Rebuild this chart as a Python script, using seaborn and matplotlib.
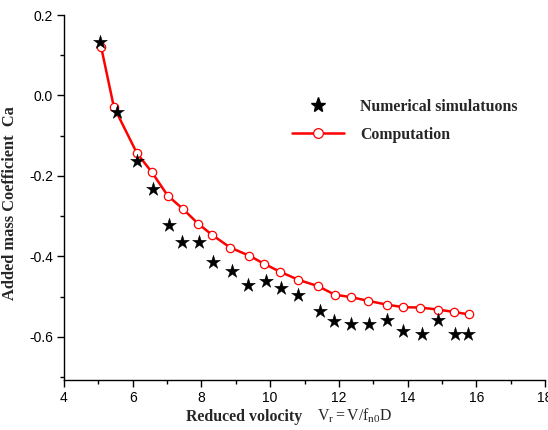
import numpy as np
import pandas as pd
import seaborn as sns
import matplotlib.pyplot as plt
from matplotlib.ticker import MultipleLocator
from matplotlib.lines import Line2D

# --- data ---
sim_vr = [5.04, 5.53, 6.12, 6.59, 7.05, 7.44, 7.92, 8.35, 8.88, 9.37, 9.88, 10.31,
          10.80, 11.44, 11.86, 12.34, 12.87, 13.40, 13.88, 14.41, 14.90, 15.38, 15.76]
sim_ca = [0.132, -0.041, -0.163, -0.233, -0.322, -0.364, -0.364, -0.414, -0.437, -0.470,
          -0.462, -0.478, -0.495, -0.535, -0.561, -0.569, -0.569, -0.559, -0.584, -0.593,
          -0.559, -0.593, -0.593]

comp_vr = [5.08, 5.45, 6.12, 6.56, 7.02, 7.45, 7.91, 8.32, 8.84, 9.39, 9.82, 10.29,
           10.82, 11.40, 11.88, 12.35, 12.84, 13.41, 13.88, 14.37, 14.89, 15.36, 15.78]
comp_ca = [0.121, -0.028, -0.143, -0.191, -0.249, -0.281, -0.319, -0.347, -0.378, -0.398,
           -0.418, -0.438, -0.458, -0.474, -0.495, -0.501, -0.510, -0.520, -0.526, -0.527,
           -0.532, -0.538, -0.544]

sim = pd.DataFrame({"vr": sim_vr, "ca": sim_ca})
comp = pd.DataFrame({"vr": comp_vr, "ca": comp_ca})

sns.set_style("ticks")
plt.rcParams['font.family'] = ['Liberation Sans', 'DejaVu Sans']
plt.rcParams['axes.unicode_minus'] = False
plt.rcParams['mathtext.fontset'] = 'custom'
plt.rcParams['mathtext.rm'] = 'Liberation Serif'
plt.rcParams['mathtext.it'] = 'Liberation Serif'

serif_size = 11.4

fig = plt.figure(figsize=(5.48, 4.30), dpi=100)
ax = fig.add_axes([64/548, 50/430, 481/548, 365/430])

# --- computation curve (red line, open circles) ---
sns.lineplot(data=comp, x="vr", y="ca", ax=ax, color="red", linewidth=1.8,
             marker="o", markersize=6, markerfacecolor="white",
             markeredgecolor="red", markeredgewidth=0.9, zorder=2)

# --- numerical simulation stars ---
sns.scatterplot(data=sim, x="vr", y="ca", ax=ax, marker="*", s=110,
                color="black", edgecolor="black", linewidth=0.3, zorder=3)

ax.set_xlim(4, 18)
ax.set_ylim(-0.707, 0.2)
ax.xaxis.set_major_locator(MultipleLocator(2))
ax.xaxis.set_minor_locator(MultipleLocator(1))
ax.yaxis.set_major_locator(MultipleLocator(0.2))
ax.yaxis.set_minor_locator(MultipleLocator(0.1))
ax.yaxis.set_major_formatter(plt.FormatStrFormatter("%.1f"))
ax.tick_params(which="major", direction="out", length=5, width=1, colors="black",
               labelsize=10, pad=3)
ax.tick_params(which="minor", direction="out", length=3, width=1, colors="black")
for s in ["top", "right"]:
    ax.spines[s].set_visible(False)
for s in ["left", "bottom"]:
    ax.spines[s].set_linewidth(1)
    ax.spines[s].set_color("black")

ax.set_xlabel("")
ax.set_ylabel("Added mass Coefficient  Ca", fontsize=11.8, fontweight="bold",
              family="Liberation Serif")
ax.yaxis.set_label_coords(-0.096, 0.485)

fig.text(186/548, 1 - 421/430, "Reduced volocity", fontsize=serif_size, fontweight="bold",
         family="Liberation Serif", ha="left", va="baseline")
fig.text(317/548, 1 - 421/430, r"$\mathrm{V_r = V/f_{n0}D}$", fontsize=serif_size,
         ha="left", va="baseline")

# --- legend ---
handles = [
    Line2D([], [], linestyle="", marker="*", markersize=11, color="black"),
    Line2D([], [], color="red", linewidth=1.8, marker="o", markersize=7,
           markerfacecolor="white", markeredgecolor="red", markeredgewidth=0.9),
]
ax.legend(handles, ["Numerical simulatuons", "Computation"], frameon=False,
          loc="upper left", bbox_to_anchor=(292/548, 1 - 99/430),
          bbox_transform=fig.transFigure, borderpad=0, borderaxespad=0,
          handlelength=3.3, handletextpad=1.0, labelspacing=0.75,
          prop={"family": "Liberation Serif", "weight": "bold", "size": serif_size})

fig.savefig("out.png", dpi=100, facecolor="white")
